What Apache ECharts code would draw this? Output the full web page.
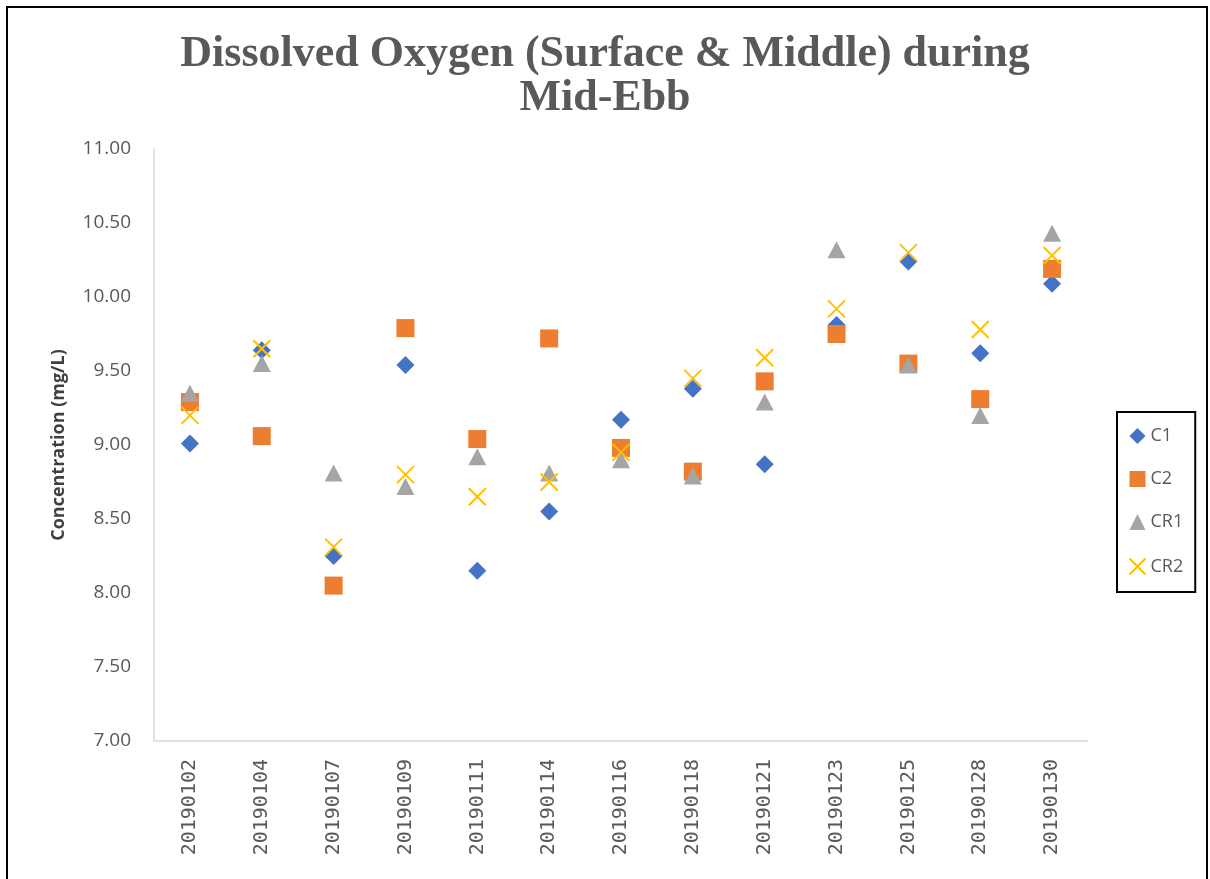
<!DOCTYPE html>
<html>
<head>
<meta charset="utf-8">
<title>Dissolved Oxygen</title>
<script src="https://cdn.jsdelivr.net/npm/echarts@6/dist/echarts.min.js"></script>
<style>
  html, body { margin: 0; padding: 0; background: #fff; }
  #chart { width: 1210px; height: 879px; }
</style>
</head>
<body>
<div id="chart"></div>
<script>
// sampling dates
const categories = ["20190102", "20190104", "20190107", "20190109", "20190111", "20190114", "20190116",
  "20190118", "20190121", "20190123", "20190125", "20190128", "20190130"];

// DO values (mg/L)
const c1 = [9.01, 9.64, 8.25, 9.54, 8.15, 8.55, 9.17, 9.38, 8.87, 9.81, 10.24, 9.62, 10.09];
const c2 = [9.29, 9.06, 8.05, 9.79, 9.04, 9.72, 8.98, 8.82, 9.43, 9.75, 9.55, 9.31, 10.19];
const cr1 = [9.35, 9.55, 8.81, 8.72, 8.92, 8.81, 8.90, 8.79, 9.29, 10.32, 9.54, 9.20, 10.43];
const cr2 = [9.20, 9.65, 8.31, 8.80, 8.65, 8.75, 8.95, 9.45, 9.59, 9.92, 10.30, 9.78, 10.28];

const yTicks = [7, 7.5, 8, 8.5, 9, 9.5, 10, 10.5, 11];

const textGray = "#595959";
const axisGray = "#D9D9D9";

const chart = echarts.init(document.getElementById("chart"));

const option = {
  backgroundColor: "#fff",
  animation: false,
  title: {
    text: "Dissolved Oxygen (Surface & Middle) during\nMid-Ebb",
    left: "center",
    top: 28,
    textStyle: {
      fontFamily: "Liberation Serif",
      fontWeight: "bold",
      fontSize: 44,
      lineHeight: 44,
      color: textGray,
    },
  },
  grid: {
    left: 154,
    right: 122,
    top: 149,
    bottom: 138,
  },
  legend: {
    orient: "vertical",
    left: 1117,
    top: 412,
    padding: [15, 12, 15, 10],
    borderColor: "#000",
    borderWidth: 2,
    itemWidth: 16,
    itemHeight: 16,
    itemGap: 25,
    textStyle: { color: textGray, fontSize: 18, fontFamily: "Open Sans" },
    data: ["C1", "C2", "CR1", "CR2"],
  },
  xAxis: {
    type: "category",
    data: categories,
    axisLine: { lineStyle: { color: axisGray, width: 1.5 } },
    axisTick: { show: false },
    axisLabel: {
      rotate: 90,
      interval: 0,
      margin: 18,
      color: textGray,
      fontSize: 20,
      fontFamily: "DejaVu Sans Mono",
    },
    splitLine: { show: false },
  },
  yAxis: {
    type: "value",
    min: yTicks[0],
    max: yTicks[yTicks.length - 1],
    interval: 0.5,
    name: "Concentration (mg/L)",
    nameLocation: "middle",
    nameGap: 86,
    nameTextStyle: {
      fontFamily: "Open Sans",
      fontWeight: "bold",
      fontSize: 18,
      color: "#404040",
    },
    axisLine: { show: true, lineStyle: { color: axisGray, width: 1.5 } },
    axisTick: { show: false },
    splitLine: { show: false },
    axisLabel: {
      margin: 23,
      color: textGray,
      fontSize: 19,
      fontFamily: "Open Sans",
      formatter: (v) => v.toFixed(2),
    },
  },
  series: [
    {
      name: "C1",
      type: "scatter",
      data: c1,
      symbol: "diamond",
      symbolSize: [18, 18],
      itemStyle: { color: "#4472C4", opacity: 1 },
    },
    {
      name: "C2",
      type: "scatter",
      data: c2,
      symbol: "rect",
      symbolSize: 18,
      itemStyle: { color: "#ED7D31", opacity: 1 },
    },
    {
      name: "CR1",
      type: "scatter",
      data: cr1,
      symbol: "triangle",
      symbolSize: [18, 17],
      itemStyle: { color: "#A5A5A5", opacity: 1 },
    },
    {
      name: "CR2",
      type: "scatter",
      data: cr2,
      symbol: "path://M0,0L10,10M10,0L0,10",
      symbolSize: 17,
      itemStyle: { color: "none", borderColor: "#FFC000", borderWidth: 2, opacity: 1 },
    },
  ],
  graphic: [
    {
      type: "rect",
      silent: true,
      shape: { x: 7, y: 7, width: 1200, height: 900 },
      style: { fill: "none", stroke: "#000", lineWidth: 2 },
    },
  ],
};

chart.setOption(option);
window.addEventListener("resize", () => chart.resize());
</script>
</body>
</html>
